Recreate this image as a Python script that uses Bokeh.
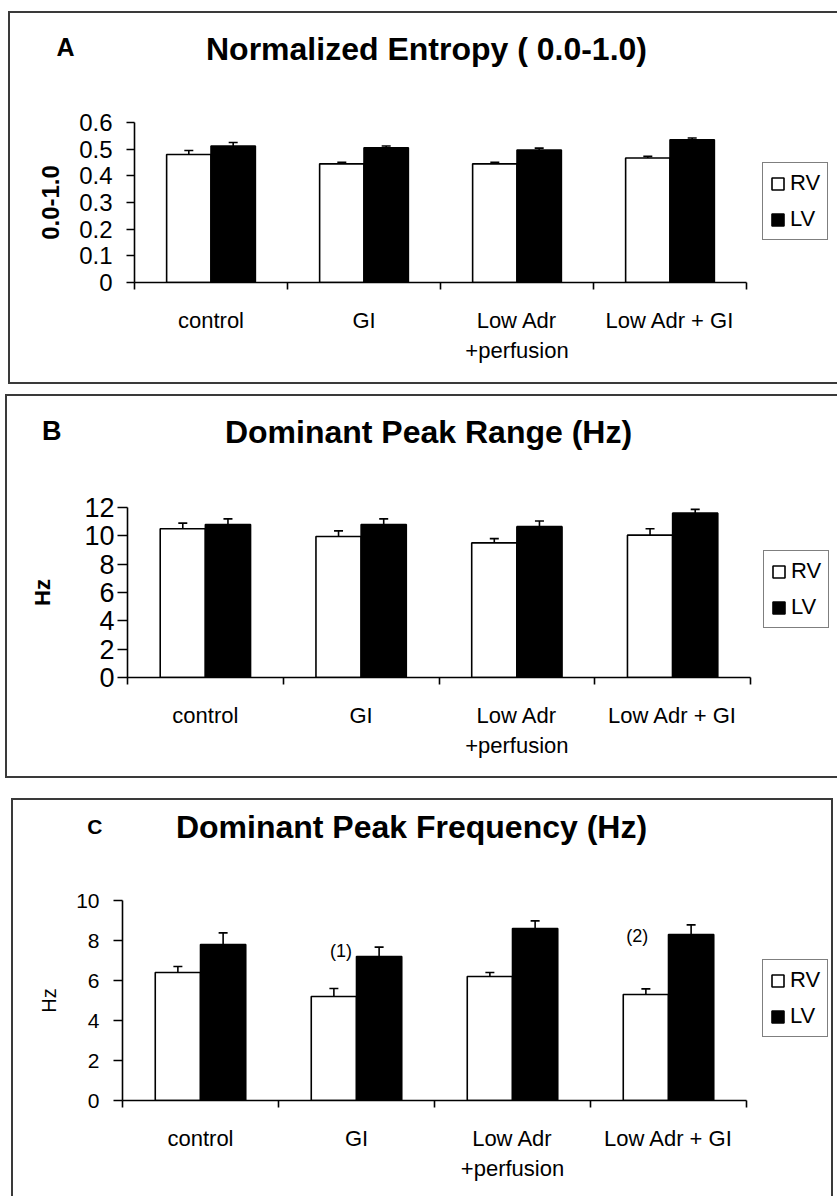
from bokeh.plotting import figure
from bokeh.models import (Range1d, FixedTicker, ColumnDataSource, Whisker, TeeHead,
                          Label, Legend, LegendItem)
from bokeh.layouts import column
from bokeh.embed import file_html
from bokeh.resources import INLINE
from bokeh.transform import dodge

# ---------------- data ----------------
categories = ["control", "GI", "Low Adr\n+perfusion", "Low Adr + GI"]
series = ["RV", "LV"]

entropy_rv = [0.48, 0.445, 0.445, 0.467]
entropy_rv_err = [0.015, 0.006, 0.006, 0.006]
entropy_lv = [0.512, 0.505, 0.497, 0.535]
entropy_lv_err = [0.013, 0.007, 0.007, 0.007]
entropy_ticks = [0, 0.1, 0.2, 0.3, 0.4, 0.5, 0.6]

range_rv = [10.5, 9.95, 9.5, 10.05]
range_rv_err = [0.4, 0.4, 0.3, 0.45]
range_lv = [10.8, 10.8, 10.65, 11.6]
range_lv_err = [0.4, 0.4, 0.4, 0.27]
range_ticks = [0, 2, 4, 6, 8, 10, 12]

freq_rv = [6.4, 5.2, 6.2, 5.3]
freq_rv_err = [0.3, 0.4, 0.2, 0.28]
freq_lv = [7.8, 7.2, 8.6, 8.3]
freq_lv_err = [0.58, 0.47, 0.38, 0.48]
freq_ticks = [0, 2, 4, 6, 8, 10]

freq_notes = ["(1)", "(2)"]
freq_note_cat = [1, 3]
freq_note_y = [7.5, 8.25]

FONT = "Liberation Sans"
BW = 0.29
BORDER = "#3a3a3a"
PAD_TOP = 20   # room above the frame for the top tick label
LC = 126       # common left border of every figure (the column aligns frames)
PAGE_W = 837


def shadow(d_l, d_r, sides):
    """Panel outline drawn as inset box-shadows; d_l/d_r = inset of the panel edges."""
    parts = []
    if d_l > 0:
        parts.append(f"inset {d_l}px 0 0 0 white")
    if d_r > 0:
        parts.append(f"inset -{d_r}px 0 0 0 white")
    if "l" in sides:
        parts.append(f"inset {d_l + 2}px 0 0 0 {BORDER}")
    if "r" in sides:
        parts.append(f"inset -{d_r + 2}px 0 0 0 {BORDER}")
    if "t" in sides:
        parts.append(f"inset 0 2px 0 0 {BORDER}")
    if "b" in sides:
        parts.append(f"inset 0 -2px 0 0 {BORDER}")
    return ", ".join(parts)


def geometry(cfg):
    pl, pt, pr, pb = cfg["panel"]
    fl, ft, fr, fb = cfg["frame"]
    fig_left = fl - LC
    width = min(pr - fig_left, PAGE_W)
    right = fig_left + width
    return fig_left, width, right, pl - fig_left, max(0, right - pr)


def make_header(letter, title, cfg):
    pl, pt, pr, pb = cfg["panel"]
    fl, ft, fr, fb = cfg["frame"]
    fig_left, width, right, d_l, d_r = geometry(cfg)
    hb = ft - PAD_TOP          # header bottom (page px)
    hh = hb - pt
    h = figure(width=width, height=hh, x_range=Range1d(0, 1), y_range=Range1d(0, hh),
               x_axis_type=None, output_backend="svg",
               toolbar_location=None, title=None,
               min_border_left=LC, min_border_right=0, min_border_top=0, min_border_bottom=0,
               margin=(cfg["gap"], 0, 0, fig_left))
    h.styles = {"box-shadow": shadow(d_l, d_r, cfg["head_sides"])}
    h.background_fill_color = None
    h.border_fill_color = None
    h.outline_line_color = None
    h.grid.visible = False
    # panel letter as the (only) tick label of the header's left axis
    lx_right, ly = cfg["letter_pos"]
    tick = float(hb - ly)
    ya = h.yaxis[0]
    ya.ticker = FixedTicker(ticks=[tick])
    ya.major_label_overrides = {tick: letter}
    ya.major_tick_out = 0
    ya.major_tick_in = 0
    ya.major_tick_line_color = None
    ya.minor_tick_line_color = None
    ya.axis_line_color = None
    ya.major_label_standoff = fl - lx_right
    ya.major_label_text_font = FONT
    ya.major_label_text_font_size = cfg["letter_size"]
    ya.major_label_text_font_style = "bold"
    ya.major_label_text_color = "black"

    tx, ty = cfg["title_pos"]
    h.add_layout(Label(x=tx - fl, y=hb - ty, x_units="screen", y_units="screen",
                       text=title, text_font=FONT, text_font_size=cfg["title_size"],
                       text_font_style="bold", text_align="center",
                       text_baseline="middle", text_color="black"))
    return h


def make_chart(ylabel, rv, rv_err, lv, lv_err, ticks, cfg):
    pl, pt, pr, pb = cfg["panel"]
    fl, ft, fr, fb = cfg["frame"]
    fig_left, width, right, d_l, d_r = geometry(cfg)
    n = len(categories)
    x_end = n * (right - fl) / (fr - fl)  # frame reaches the panel edge; axis bounded to [0, n]
    p = figure(width=width, height=pb - (ft - PAD_TOP),
               x_range=Range1d(0, x_end), y_range=Range1d(0, ticks[-1]),
               output_backend="svg", toolbar_location=None, title=None,
               min_border_left=LC, min_border_right=0,
               min_border_top=PAD_TOP, min_border_bottom=pb - fb,
               margin=(0, 0, 0, fig_left))
    p.styles = {"box-shadow": shadow(d_l, d_r, cfg["body_sides"])}
    p.background_fill_color = None
    p.border_fill_color = None
    p.outline_line_color = None
    p.grid.visible = False

    centers = [i + 0.5 for i in range(n)]
    src = ColumnDataSource(dict(
        x=centers, rv=rv, lv=lv,
        rv_up=[v + e for v, e in zip(rv, rv_err)],
        lv_up=[v + e for v, e in zip(lv, lv_err)],
    ))
    r_rv = p.vbar(x=dodge("x", -BW / 2), top="rv", width=BW, source=src,
                  fill_color="white", line_color="black", line_width=1.6)
    r_lv = p.vbar(x=dodge("x", BW / 2), top="lv", width=BW, source=src,
                  fill_color="black", line_color="black", line_width=1.6)
    for key, off in (("rv", -BW / 2), ("lv", BW / 2)):
        w = Whisker(base=dodge("x", off), lower=key, upper=key + "_up", source=src,
                    line_color="black", line_width=1.6,
                    upper_head=TeeHead(size=9, line_color="black", line_width=1.6),
                    lower_head=None, level="annotation")
        p.add_layout(w)

    xa = p.xaxis[0]
    xa.bounds = (0, n)
    xa.ticker = FixedTicker(ticks=centers, minor_ticks=list(range(n + 1)))
    xa.major_label_overrides = {c: lab for c, lab in zip(centers, categories)}
    xa.major_tick_out = 0
    xa.major_tick_in = 0
    xa.minor_tick_out = 7
    xa.minor_tick_in = 0
    xa.minor_tick_line_color = "black"
    xa.minor_tick_line_width = 1.6
    xa.axis_line_color = "black"
    xa.axis_line_width = 1.6
    xa.major_label_text_font = FONT
    xa.major_label_text_font_size = "22px"
    xa.major_label_text_color = "black"
    xa.major_label_standoff = cfg["x_standoff"]

    ya = p.yaxis[0]
    ya.ticker = FixedTicker(ticks=ticks)
    ya.major_tick_out = cfg["tick_out"]
    ya.major_tick_in = 0
    ya.major_tick_line_color = "black"
    ya.major_tick_line_width = 1.6
    ya.minor_tick_line_color = None
    ya.axis_line_color = "black"
    ya.axis_line_width = 1.6
    ya.major_label_text_font = FONT
    ya.major_label_text_font_size = cfg["ytick_size"]
    ya.major_label_text_color = "black"
    ya.major_label_standoff = cfg["y_standoff"]
    ya.axis_label = ylabel
    ya.axis_label_text_font = FONT
    ya.axis_label_text_font_size = cfg["ylabel_size"]
    ya.axis_label_text_font_style = cfg["ylabel_style"]
    ya.axis_label_text_color = "black"
    ya.axis_label_standoff = cfg["ylabel_standoff"]

    gx, gy = cfg["legend_pos"]
    legend = Legend(items=[LegendItem(label=series[0], renderers=[r_rv]),
                           LegendItem(label=series[1], renderers=[r_lv])],
                    location=(gx - fl, fb - gy))
    legend.label_text_font = FONT
    legend.label_text_font_size = "22px"
    legend.label_text_color = "black"
    legend.glyph_width = 15
    legend.glyph_height = 15
    legend.label_standoff = 5
    legend.padding = 7
    legend.spacing = 10
    legend.margin = 0
    legend.border_line_color = "black"
    legend.border_line_width = 1.5
    legend.background_fill_color = "white"
    legend.background_fill_alpha = 1
    p.add_layout(legend)
    return p


cfgA = dict(panel=(8, 11, 837, 384), frame=(134, 122, 746, 282), gap=11,
            head_sides="lt", body_sides="lb",
            x_standoff=18, tick_out=8, ytick_size="24px", y_standoff=14,
            ylabel_size="24px", ylabel_style="bold", ylabel_standoff=17,
            title_pos=(426, 48), title_size="32px", letter_pos=(74, 46), letter_size="25px",
            legend_pos=(762, 240))
cfgB = dict(panel=(5, 394, 837, 778), frame=(127, 507, 750, 677), gap=10,
            head_sides="lt", body_sides="lb",
            x_standoff=18, tick_out=10, ytick_size="27px", y_standoff=3,
            ylabel_size="22px", ylabel_style="bold", ylabel_standoff=26,
            title_pos=(428, 431), title_size="32px", letter_pos=(61, 430), letter_size="27px",
            legend_pos=(763, 628))
cfgC = dict(panel=(11, 798, 835, 1196), frame=(122, 900, 746, 1100), gap=20,
            head_sides="ltr", body_sides="lr",
            x_standoff=18, tick_out=9, ytick_size="21px", y_standoff=14,
            ylabel_size="20px", ylabel_style="normal", ylabel_standoff=13,
            title_pos=(411, 826), title_size="32px", letter_pos=(102, 826), letter_size="21px",
            legend_pos=(762, 1037))

hA = make_header("A", "Normalized Entropy ( 0.0-1.0)", cfgA)
pA = make_chart("0.0-1.0", entropy_rv, entropy_rv_err, entropy_lv, entropy_lv_err,
                entropy_ticks, cfgA)
hB = make_header("B", "Dominant Peak Range (Hz)", cfgB)
pB = make_chart("Hz", range_rv, range_rv_err, range_lv, range_lv_err, range_ticks, cfgB)
hC = make_header("C", "Dominant Peak Frequency (Hz)", cfgC)
pC = make_chart("Hz", freq_rv, freq_rv_err, freq_lv, freq_lv_err, freq_ticks, cfgC)

# significance notes in panel C, placed left of the LV bar of their category
for txt, ci, yv in zip(freq_notes, freq_note_cat, freq_note_y):
    off = -0.1 if ci == 1 else -0.2
    pC.add_layout(Label(x=ci + 0.5 + off, y=yv, text=txt, text_font=FONT,
                        text_font_size="18px", text_align="center",
                        text_baseline="middle", text_color="black"))

layout = column(hA, pA, hB, pB, hC, pC, spacing=0)
open("out.html", "w").write(file_html(layout, INLINE))
